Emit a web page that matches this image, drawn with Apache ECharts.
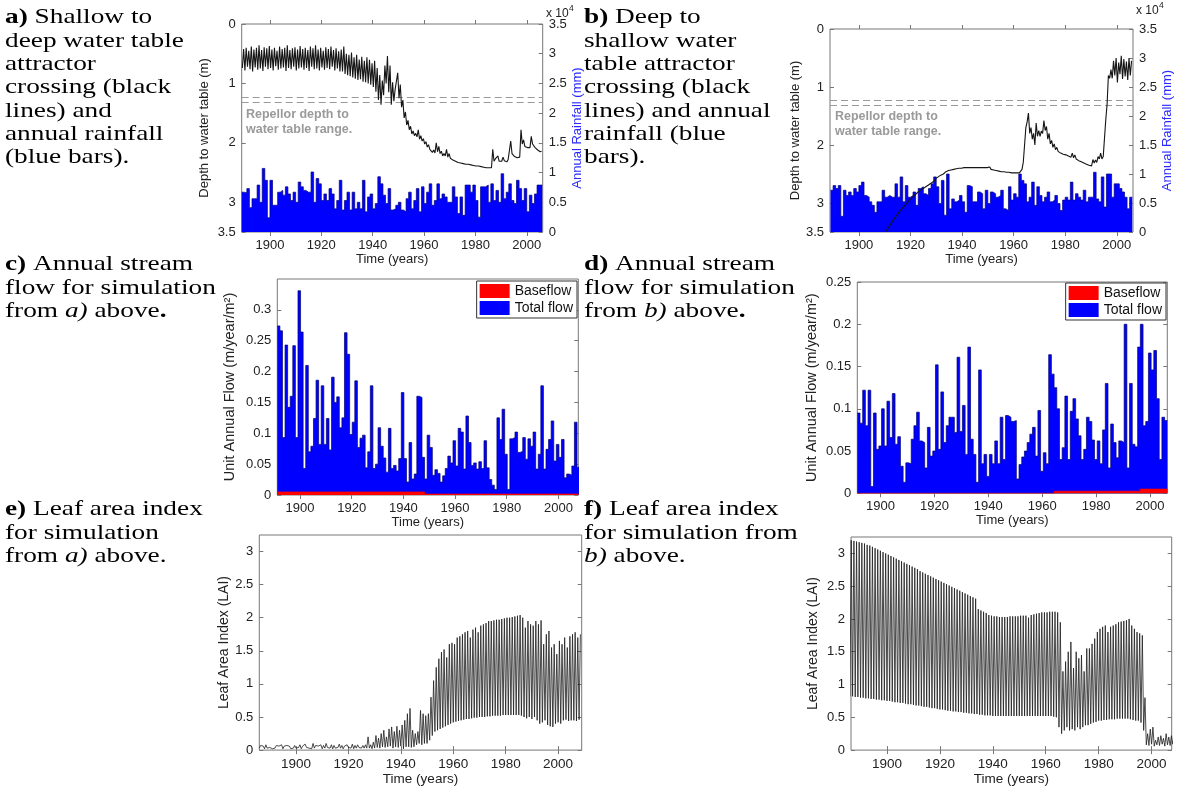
<!DOCTYPE html>
<html>
<head>
<meta charset="utf-8">
<script src="https://cdn.jsdelivr.net/npm/echarts@6/dist/echarts.min.js"></script>
<style>
  html, body { margin: 0; padding: 0; background: #fff; }
  #chart { width: 1177px; height: 787px; }
</style>
</head>
<body>
<div id="chart"></div>
<script>
// ---------- data ----------
const yearTicks = [1900, 1920, 1940, 1960, 1980, 2000];

// a) and b): annual rainfall bars, one bar per year from barStartAB
const barStartAB = 1889;
const rainA = [6700,6600,7300,4100,5600,5600,7900,5000,10700,8700,
  2400,8700,4500,4500,6700,7000,6200,7600,6400,5300,
  6700,5000,8400,7600,7000,6700,6700,10100,5000,9000,
  8100,5300,6400,5300,7300,6400,3900,5300,8700,3700,
  5300,6700,3700,6700,3900,5000,3900,8700,3400,5900,
  6400,3900,4800,9300,8100,6200,4800,7300,3700,3900,
  4500,5000,3700,3400,5600,6700,3900,5300,7300,3400,
  7600,4800,6700,8100,4500,5300,8100,5600,6400,5900,
  5000,5000,7600,5900,3100,5900,2800,7900,7900,6700,
  7900,5300,2500,7600,7600,7900,5000,8100,5300,7000,
  5000,9800,5600,6700,8100,5300,4800,8700,7300,5300,
  7300,3400,6200,4800,6400,7900,7900];
const rainB = [7200,8000,7500,8000,2700,7200,6300,6900,6300,7500,
  6900,8000,8600,6300,6000,5200,4600,3400,5200,5200,
  7200,6000,6300,6000,6000,8300,6000,9500,5200,8000,
  6000,6300,6900,4600,7500,7800,6600,6300,7500,8300,
  9500,7800,4900,8900,2900,10000,4000,5700,5200,5500,
  6300,5200,3400,8000,7800,5200,5200,6900,6600,4000,
  7200,4900,6900,6600,6000,6300,7200,4000,3700,7800,
  5500,6600,6000,10000,8900,8300,5200,6000,8600,4600,
  7800,6300,5200,6000,6900,5200,5500,6300,4900,3700,
  5500,6000,5500,8600,5500,6600,6000,5500,7200,5200,
  6000,6000,10300,5700,5200,9500,4300,10000,10000,6000,
  8300,8300,7500,6900,6000,4000,6000];

// depth to water table (m): deepest and shallowest value of each year, from barStartAB
const deepA = [0.74,0.78,0.72,0.76,0.80,0.73,0.77,0.75,0.79,0.72,
  0.76,0.74,0.78,0.71,0.77,0.75,0.73,0.79,0.74,0.76,
  0.72,0.78,0.75,0.73,0.77,0.74,0.79,0.72,0.76,0.75,
  0.78,0.73,0.77,0.74,0.76,0.72,0.78,0.75,0.80,
  0.80,0.84,0.86,0.88,0.90,0.92,0.94,0.93,0.97,0.98,
  1.00,1.02,1.06,1.14,1.28,1.36,1.20,1.00,1.15,1.36,
  1.30,1.10,1.25,1.40,1.58,1.70,1.78,1.85,1.88,1.90,
  1.94,1.97,2.02,2.07,2.11,2.16,2.17,2.15,2.18,2.22,
  2.22,2.24,2.26,2.29,2.31,2.33,2.34,2.35,2.36,2.36,
  2.37,2.38,2.39,2.39,2.40,2.41,2.42,2.42,2.42,2.31,
  2.30,2.31,2.31,2.30,2.32,2.30,2.18,2.23,2.25,2.24,
  2.02,2.06,2.08,2.08,2.02,2.08,2.12,2.15];
const shallowA = [0.42,0.40,0.45,0.38,0.43,0.40,0.36,0.44,0.39,0.41,
  0.37,0.43,0.40,0.45,0.38,0.42,0.40,0.36,0.44,0.41,
  0.39,0.43,0.37,0.42,0.40,0.44,0.38,0.41,0.36,0.43,
  0.40,0.45,0.39,0.42,0.38,0.44,0.41,0.46,0.43,
  0.38,0.50,0.52,0.48,0.56,0.52,0.60,0.55,0.62,0.56,
  0.60,0.66,0.62,0.74,0.86,0.95,0.70,0.54,0.70,0.98,
  1.10,0.82,1.02,1.28,1.48,1.62,1.72,1.80,1.84,1.78,
  1.88,1.93,1.98,2.03,2.08,2.12,2.00,2.06,2.14,2.18,
  2.11,2.18,2.24,2.27,2.30,2.32,2.33,2.34,2.35,2.36,
  2.36,2.37,2.38,2.39,2.39,2.40,2.41,2.42,2.11,2.27,
  2.22,2.28,2.24,2.28,2.28,1.97,2.15,2.20,2.22,1.78,
  1.95,2.03,2.06,1.89,2.00,2.06,2.10,2.14];
const deepB = [null,null,null,null,null,null,null,null,null,null,
  null,null,null,null,null,null,null,null,null,null,null,
  3.50,3.44,3.37,3.30,3.24,3.18,3.12,3.07,3.02,2.97,
  2.92,2.88,2.84,2.80,2.77,2.74,2.71,2.68,2.65,2.62,
  2.58,2.56,2.54,2.50,2.48,2.45,2.44,2.43,2.42,2.41,
  2.40,2.40,2.40,2.40,2.40,2.40,2.40,2.40,2.40,2.40,
  2.40,2.42,2.43,2.44,2.45,2.46,2.46,2.47,2.47,2.48,
  2.48,2.48,2.48,2.42,2.00,1.60,1.80,1.90,2.00,1.85,
  1.85,1.80,1.75,1.90,1.98,2.04,2.08,2.11,2.14,2.16,
  2.17,2.19,2.21,2.22,2.24,2.27,2.29,2.31,2.33,2.35,
  2.36,2.31,2.30,2.24,2.24,2.22,1.30,0.85,0.85,0.80,
  0.92,0.78,0.86,0.82,0.88,0.80];
const shallowB = [null,null,null,null,null,null,null,null,null,null,
  null,null,null,null,null,null,null,null,null,null,null,
  3.50,3.42,3.35,3.28,3.22,3.16,3.10,3.05,3.00,2.95,
  2.90,2.86,2.82,2.78,2.75,2.72,2.69,2.66,2.62,2.58,
  2.55,2.52,2.50,2.46,2.44,2.43,2.42,2.41,2.40,2.40,
  2.39,2.39,2.39,2.39,2.39,2.39,2.39,2.39,2.39,2.39,
  2.38,2.40,2.42,2.43,2.44,2.45,2.45,2.46,2.46,2.47,
  2.47,2.47,2.45,2.30,1.70,1.45,1.70,1.80,1.62,1.75,
  1.76,1.58,1.68,1.80,1.92,1.98,2.04,2.08,2.11,2.14,
  2.15,2.17,2.14,2.17,2.21,2.24,2.27,2.29,2.31,2.33,
  2.25,2.26,2.20,2.14,2.20,1.56,0.80,0.70,0.55,0.50,
  0.58,0.46,0.52,0.56,0.50,0.55];
const repellorDepths = [1.23, 1.32];

// c) and d): unit annual flow (m/year/m2)
const barStartC = 1891.2;
const totalFlowC = [0.274,0.266,0.093,0.243,0.142,0.16,0.242,0.093,0.331,0.264,
  0.043,0.21,0.07,0.079,0.124,0.186,0.082,0.177,0.082,0.124,
  0.073,0.191,0.15,0.159,0.109,0.125,0.263,0.228,0.098,0.118,
  0.185,0.077,0.092,0.097,0.044,0.07,0.177,0.043,0.05,0.109,
  0.079,0.06,0.037,0.108,0.043,0.048,0.039,0.059,0.166,0.059,
  0.021,0.085,0.026,0.034,0.16,0.158,0.061,0.026,0.097,0.077,
  0.032,0.041,0.035,0.021,0.031,0.043,0.063,0.052,0.088,0.047,
  0.108,0.102,0.042,0.128,0.085,0.048,0.052,0.042,0.054,0.043,
  0.088,0.044,0.025,0.016,0.009,0.125,0.09,0.139,0.066,0.009,
  0.091,0.093,0.102,0.069,0.071,0.093,0.058,0.091,0.079,0.102,
  0.042,0.066,0.177,0.042,0.074,0.09,0.12,0.055,0.082,0.061,
  0.09,0.028,0.034,0.032,0.047,0.118,0.045];
const baseflowC = [0.005,0.005,0.005,0.005,0.005,0.005,0.005,0.005,0.005,0.005,
  0.005,0.005,0.005,0.005,0.005,0.005,0.005,0.005,0.005,0.005,
  0.005,0.005,0.005,0.005,0.005,0.005,0.005,0.005,0.005,0.005,
  0.005,0.005,0.005,0.005,0.005,0.005,0.005,0.005,0.005,0.005,
  0.005,0.005,0.005,0.005,0.005,0.005,0.005,0.005,0.005,0.005,
  0.005,0.005,0.005,0.005,0.005,0.005,0.005,0.0015,0.0015,0.0015,
  0.0015,0.0015,0.0015,0.0015,0.0015,0.0015,0.0015,0.0015,0.0015,0.0015,
  0.0015,0.0015,0.0015,0.0015,0.0015,0.0015,0.0015,0.0015,0.0015,0.0015,
  0.0015,0.0015,0.0015,0.0015,0.0015,0.0015,0.0015,0.0015,0.0015,0.0015,
  0.0015,0.0015,0.0015,0.0015,0.0015,0.0015,0.0015,0.0015,0.0015,0.0015,
  0.0015,0.0015,0.0015,0.0015,0.0015,0.0015,0.0015,0.0015,0.0015,0.0015,
  0.0015,0.0015,0.0015,0.0015,0.0015,0.0015,0.0015];
const barStartD = 1891.4;
const totalFlowD = [0.095,0.083,0.122,0.08,0.122,0.008,0.095,0.052,0.056,0.1,
  0.056,0.109,0.066,0.118,0.058,0.067,0.032,0.013,0.036,0.035,
  0.064,0.08,0.096,0.062,0.06,0.03,0.078,0.044,0.05,0.152,
  0.052,0.12,0.06,0.08,0.09,0.09,0.072,0.161,0.073,0.104,
  0.046,0.173,0.064,0.046,0.013,0.146,0.035,0.046,0.02,0.046,
  0.035,0.062,0.035,0.09,0.04,0.092,0.09,0.085,0.086,0.017,
  0.034,0.043,0.05,0.06,0.07,0.078,0.044,0.098,0.026,0.048,
  0.035,0.164,0.141,0.125,0.1,0.04,0.054,0.115,0.04,0.097,
  0.112,0.088,0.068,0.04,0.052,0.09,0.085,0.063,0.04,0.062,
  0.035,0.075,0.13,0.03,0.082,0.06,0.042,0.062,0.06,0.2,
  0.03,0.13,0.058,0.055,0.173,0.2,0.08,0.085,0.166,0.146,
  0.169,0.112,0.04,0.09,0.086];
const baseflowD = [0,0,0,0,0,0,0,0,0,0, 0,0,0,0,0,0,0,0,0,0,
  0,0,0,0,0,0,0,0,0,0, 0,0,0,0,0,0,0,0,0,0,
  0,0,0,0,0,0,0,0,0,0, 0,0,0,0,0,0,0,0,0,0,
  0,0,0,0,0,0,0,0,0,0, 0,0,0,0.0025,0.0025,0.0025,0.0025,0.0025,0.0025,0.0025,
  0.0025,0.0025,0.0025,0.0025,0.0025,0.0025,0.0025,0.0025,0.0025,0.0025,
  0.0025,0.0025,0.0025,0.0025,0.0025,0.0025,0.0025,0.0025,0.0025,0.0025,
  0.0025,0.0025,0.0025,0.0025,0.0025,0.005,0.005,0.005,0.005,0.005,
  0.005,0.005,0.005,0.005,0.005];

// e) and f): leaf area index, yearly trough and peak from laiStart
const laiStart = 1886;
const laiPeakE = [0.07,0.06,0.08,0.06,0.07,0.05,0.07,0.06,0.08,0.06,
  0.07,0.06,0.05,0.07,0.06,0.08,0.06,0.09,0.07,0.06,
  0.10,0.07,0.06,0.08,0.07,0.10,0.06,0.08,0.07,0.06,
  0.09,0.07,0.06,0.08,0.06,0.09,0.07,0.08,0.06,0.07,0.08,
  0.2,0.08,0.12,0.22,0.18,0.25,0.3,0.2,0.32,0.35,
  0.28,0.36,0.3,0.38,0.45,0.55,0.63,0.3,0.25,0.28,
  0.6,0.55,0.52,0.55,0.8,1.05,1.25,1.38,1.48,1.52,
  1.4,1.6,1.62,1.6,1.7,1.72,1.75,1.78,1.8,1.7,
  1.82,1.85,1.78,1.88,1.9,1.92,1.95,1.95,1.96,1.97,
  1.97,1.98,1.99,2.0,2.0,2.01,2.02,2.03,2.04,2.0,
  1.85,1.95,1.9,1.88,1.95,1.9,1.96,1.6,1.75,1.8,
  1.55,1.6,1.45,1.65,1.6,1.7,1.55,1.72,1.75,1.78,
  1.7,1.75];
const laiTroughE = [0.03,0.04,0.02,0.03,0.04,0.02,0.03,0.04,0.03,0.02,
  0.03,0.04,0.02,0.03,0.03,0.04,0.02,0.03,0.04,0.03,
  0.02,0.03,0.04,0.03,0.02,0.03,0.04,0.03,0.02,0.03,
  0.04,0.03,0.02,0.03,0.04,0.03,0.02,0.03,0.04,0.03,0.03,
  0.03,0.03,0.02,0.03,0.04,0.03,0.05,0.04,0.05,0.06,
  0.03,0.05,0.04,0.06,0.02,0.05,0.05,0.04,0.05,0.08,
  0.1,0.08,0.1,0.1,0.15,0.22,0.28,0.3,0.32,0.34,
  0.36,0.38,0.4,0.42,0.43,0.44,0.45,0.46,0.47,0.47,
  0.48,0.49,0.49,0.5,0.5,0.5,0.51,0.51,0.52,0.52,
  0.52,0.52,0.53,0.53,0.53,0.53,0.53,0.53,0.53,0.52,
  0.5,0.48,0.5,0.47,0.5,0.45,0.4,0.42,0.45,0.38,
  0.36,0.35,0.4,0.42,0.4,0.45,0.46,0.44,0.45,0.45,
  0.44,0.46];
const laiPeakF = [3.20,3.19,3.18,3.17,3.16,3.15,3.13,3.12,3.10,3.08,
  3.06,3.04,3.02,3.00,2.98,2.96,2.94,2.92,2.90,2.88,
  2.86,2.84,2.82,2.80,2.78,2.76,2.73,2.71,2.69,2.67,
  2.65,2.63,2.61,2.59,2.57,2.55,2.53,2.51,2.49,2.47,
  2.45,2.43,2.41,2.39,2.37,2.35,2.33,2.31,2.15,2.13,
  2.11,2.09,2.06,2.05,2.04,2.04,2.03,2.03,2.03,2.03,
  2.04,2.04,2.04,2.04,2.05,2.05,2.05,2.02,2.06,2.07,
  2.08,2.09,2.10,2.10,2.10,2.11,2.11,2.11,2.10,1.95,
  1.20,1.35,1.50,1.65,1.25,1.50,1.40,1.45,1.20,1.55,
  1.55,1.62,1.70,1.80,1.85,1.88,1.90,1.80,1.88,1.90,
  1.92,1.95,1.96,1.97,1.98,2.00,1.90,1.85,1.80,1.78,
  1.75,0.80,0.25,0.32,0.35,0.15,0.20,0.22,0.18,0.25,
  0.20,0.22,0.20];
const laiTroughF = [0.82,0.82,0.81,0.81,0.80,0.80,0.79,0.79,0.78,0.78,
  0.77,0.77,0.76,0.76,0.75,0.75,0.74,0.73,0.73,0.72,
  0.72,0.71,0.70,0.70,0.69,0.68,0.68,0.67,0.66,0.66,
  0.65,0.64,0.64,0.63,0.62,0.62,0.61,0.60,0.60,0.59,
  0.59,0.58,0.58,0.57,0.57,0.56,0.56,0.55,0.55,0.54,
  0.54,0.53,0.53,0.53,0.52,0.52,0.52,0.52,0.52,0.52,
  0.52,0.52,0.52,0.52,0.52,0.52,0.52,0.52,0.52,0.52,
  0.52,0.52,0.52,0.52,0.52,0.52,0.52,0.51,0.50,0.35,
  0.25,0.30,0.35,0.30,0.32,0.30,0.35,0.32,0.35,0.38,
  0.38,0.40,0.42,0.43,0.45,0.45,0.46,0.46,0.47,0.47,
  0.47,0.48,0.48,0.48,0.48,0.48,0.47,0.46,0.45,0.45,
  0.42,0.30,0.08,0.07,0.09,0.06,0.08,0.07,0.09,0.06,
  0.08,0.07,0.09];

// ---------- helpers ----------
const sans = 'Liberation Sans';
const serif = 'Liberation Serif';
const frameColor = '#777';

// one bar per year -> step outline + fill
const stepData = (start, values) => {
  const pts = values.map((v, i) => [start + i, v]);
  pts.push([start + values.length, values[values.length - 1]]);
  return pts;
};
// two points per year -> dense seasonal zigzag
const zigzag = (start, first, second, off1, off2) => {
  const pts = [];
  first.forEach((v, i) => {
    if (v == null) return;
    pts.push([start + i + off1, v]);
    pts.push([start + i + off2, second[i]]);
  });
  return pts;
};

const grids = [
  { left: 241.7, top: 24, width: 301, height: 208 },     // a
  { left: 830, top: 29, width: 303, height: 203 },       // b
  { left: 277.3, top: 279, width: 301, height: 216 },    // c
  { left: 857.3, top: 282, width: 310, height: 211.3 },  // d
  { left: 259.3, top: 535, width: 322.4, height: 216.7 },// e
  { left: 851, top: 537, width: 320.7, height: 214.7 }   // f
].map(g => Object.assign(g, { show: true, borderColor: frameColor, borderWidth: 1, backgroundColor: '#fff' }));

const xRanges = [[1889, 2006.2], [1888.8, 2006.3], [1891.2, 2007.7], [1891.4, 2006.4], [1886, 2009], [1886.4, 2007.6]];

const labelStyle = { fontFamily: sans, fontSize: 13, color: '#222' };
const tickStyle = { inside: true, length: 4, lineStyle: { color: frameColor } };

const xAxes = [];
xRanges.forEach((r, g) => {
  const big = g >= 4;
  xAxes.push({
    type: 'value', gridIndex: g, min: r[0], max: r[1],
    axisLine: { show: false }, splitLine: { show: false },
    axisTick: Object.assign({ customValues: yearTicks }, tickStyle),
    axisLabel: Object.assign({ customValues: yearTicks, margin: 7, formatter: v => String(v) }, labelStyle,
      { fontSize: big ? 13.5 : 13 }),
    name: 'Time (years)', nameLocation: 'middle', nameGap: 21,
    nameTextStyle: { fontFamily: sans, fontSize: big ? 13.5 : 13, color: '#222' }
  });
  xAxes.push({
    type: 'value', gridIndex: g, position: 'top', min: r[0], max: r[1],
    axisLine: { show: false }, splitLine: { show: false }, axisLabel: { show: false },
    axisTick: Object.assign({ customValues: yearTicks }, tickStyle)
  });
});

const nameStyle = (size) => ({ fontFamily: sans, fontSize: size, color: '#222' });
const depthAxis = (g, gap) => ({
  type: 'value', gridIndex: g, inverse: true, min: 0, max: 3.5,
  axisLine: { show: false }, splitLine: { show: false },
  axisTick: Object.assign({ customValues: [0, 1, 2, 3, 3.5] }, tickStyle),
  axisLabel: Object.assign({ customValues: [0, 1, 2, 3, 3.5], margin: 6 }, labelStyle),
  name: 'Depth to water table (m)', nameLocation: 'middle', nameGap: gap, nameRotate: 90, nameTextStyle: nameStyle(13)
});
const rainAxis = (g) => ({
  type: 'value', gridIndex: g, position: 'right', min: 0, max: 35000, interval: 5000,
  axisLine: { show: false }, splitLine: { show: false },
  axisTick: tickStyle,
  axisLabel: Object.assign({ margin: 6, formatter: v => String(v / 10000) }, labelStyle),
  name: 'Annual Rainfall (mm)', nameLocation: 'middle', nameGap: 27, nameRotate: 90,
  nameTextStyle: { fontFamily: sans, fontSize: 13, color: '#2a2aff' }
});
const plainAxis = (g, max, ticks, name, gap, size) => ({
  type: 'value', gridIndex: g, min: 0, max: max,
  axisLine: { show: false }, splitLine: { show: false },
  axisTick: Object.assign({ customValues: ticks }, tickStyle),
  axisLabel: Object.assign({ customValues: ticks, margin: 6 }, labelStyle),
  name: name, nameLocation: 'middle', nameGap: gap, nameRotate: 90, nameTextStyle: nameStyle(size)
});
const mirrorAxis = (g, max, ticks) => ({
  type: 'value', gridIndex: g, position: 'right', min: 0, max: max,
  axisLine: { show: false }, splitLine: { show: false }, axisLabel: { show: false },
  axisTick: Object.assign({ customValues: ticks }, tickStyle)
});

const flowTicksC = [0, 0.05, 0.1, 0.15, 0.2, 0.25, 0.3];
const flowTicksD = [0, 0.05, 0.1, 0.15, 0.2, 0.25];
const laiTicks = [0, 0.5, 1, 1.5, 2, 2.5, 3];
const flowName = 'Unit Annual Flow (m/year/m²)';
const laiName = 'Leaf Area Index (LAI)';

const yAxes = [
  depthAxis(0, 31), rainAxis(0),
  depthAxis(1, 18), rainAxis(1),
  plainAxis(2, 0.35, flowTicksC, flowName, 40, 14.5), mirrorAxis(2, 0.35, flowTicksC),
  plainAxis(3, 0.25, flowTicksD, flowName, 38, 14.5), mirrorAxis(3, 0.25, flowTicksD),
  plainAxis(4, 3.25, laiTicks, laiName, 25, 14), mirrorAxis(4, 3.25, laiTicks),
  plainAxis(5, 3.25, laiTicks, laiName, 31, 14), mirrorAxis(5, 3.25, laiTicks)
];

const barSeries = (name, xi, yi, start, values, fill, edge, z) => ({
  name: name, type: 'line', xAxisIndex: xi, yAxisIndex: yi, step: 'end',
  data: stepData(start, values), showSymbol: false, symbol: 'none', z: z,
  color: fill, itemStyle: { color: fill },
  lineStyle: { color: edge, width: 0.7 },
  areaStyle: { color: fill, opacity: 1 }
});
const repellorLines = {
  silent: true, symbol: 'none', label: { show: false },
  lineStyle: { color: '#9a9a9a', type: [7, 4], width: 1 },
  data: repellorDepths.map(d => ({ yAxis: d }))
};
const wtSeries = (xi, yi, deep, shallow) => ({
  type: 'line', xAxisIndex: xi, yAxisIndex: yi, showSymbol: false, symbol: 'none', z: 5,
  data: zigzag(barStartAB, deep, shallow, 0.25, 0.75),
  lineStyle: { color: '#151515', width: 1.1 },
  markLine: repellorLines
});
const laiSeries = (xi, yi, troughs, peaks) => ({
  type: 'line', xAxisIndex: xi, yAxisIndex: yi, showSymbol: false, symbol: 'none',
  data: zigzag(laiStart, troughs, peaks, 0, 0.5),
  lineStyle: { color: '#1e1e1e', width: 0.8 }
});

const series = [
  barSeries('Rainfall a', 0, 1, barStartAB, rainA, '#0000ff', '#000080', 1),
  wtSeries(0, 0, deepA, shallowA),
  barSeries('Rainfall b', 2, 3, barStartAB, rainB, '#0000ff', '#000080', 1),
  wtSeries(2, 2, deepB, shallowB),
  barSeries('Total flow', 4, 4, barStartC, totalFlowC, '#0000ff', '#000070', 1),
  barSeries('Baseflow', 4, 4, barStartC, baseflowC, '#ff0000', '#ff0000', 2),
  barSeries('Total flow', 6, 6, barStartD, totalFlowD, '#0000ff', '#000070', 1),
  barSeries('Baseflow', 6, 6, barStartD, baseflowD, '#ff0000', '#ff0000', 2),
  laiSeries(8, 8, laiTroughE, laiPeakE),
  laiSeries(10, 10, laiTroughF, laiPeakF)
];

const legendFor = (right, top) => ({
  data: ['Baseflow', 'Total flow'], orient: 'vertical', right: right, top: top,
  icon: 'rect', itemWidth: 30, itemHeight: 14, itemGap: 3, padding: [3, 4, 3, 3],
  borderColor: '#333', borderWidth: 1, backgroundColor: '#fff', selectedMode: false,
  textStyle: { fontFamily: sans, fontSize: 14, color: '#111' }
});

// ---------- captions and annotations ----------
const capSize = 21, capLine = 23.3, capStretch = 1.3;
const capText = (x, y, text) => ({
  type: 'text', x: x, y: y, scaleX: capStretch, silent: true,
  style: {
    text: text, fill: '#000', fontFamily: serif, fontSize: capSize, lineHeight: capLine,
    rich: {
      b: { fontWeight: 'bold', fontFamily: serif, fontSize: capSize, lineHeight: capLine, fill: '#000' },
      i: { fontStyle: 'italic', fontFamily: serif, fontSize: capSize, lineHeight: capLine, fill: '#000' }
    }
  }
});
const noteText = (x, y) => ({
  type: 'text', x: x, y: y, silent: true,
  style: { text: 'Repellor depth to\nwater table range.', fill: '#9a9a9a', fontFamily: sans,
    fontSize: 12.5, fontWeight: 'bold', lineHeight: 15 }
});
const expText = (x, y) => [
  { type: 'text', x: x, y: y, silent: true, style: { text: 'x 10', fill: '#222', fontFamily: sans, fontSize: 12 } },
  { type: 'text', x: x + 23, y: y - 4, silent: true, style: { text: '4', fill: '#222', fontFamily: sans, fontSize: 8.5 } }
];

const graphic = [
  capText(5, 6.3, '{b|a)} Shallow to\ndeep water table\nattractor\ncrossing (black\nlines) and\nannual rainfall\n(blue bars).'),
  capText(584, 6.3, '{b|b)} Deep to\nshallow water\ntable attractor\ncrossing (black\nlines) and annual\nrainfall (blue\nbars).'),
  capText(5, 253.3, '{b|c)} Annual stream\nflow for simulation\nfrom {i|a)} above{b|.}'),
  capText(584, 253.3, '{b|d)} Annual stream\nflow for simulation\nfrom {i|b)} above{b|.}'),
  capText(5, 498.3, '{b|e)} Leaf area index\nfor simulation\nfrom {i|a)} above.'),
  capText(584, 498.3, '{b|f)} Leaf area index\nfor simulation from\n{i|b)} above.'),
  noteText(246, 107),
  noteText(835, 109)
].concat(expText(546, 8), expText(1136, 5));

const chart = echarts.init(document.getElementById('chart'), null, { renderer: 'canvas' });
chart.setOption({
  animation: false,
  backgroundColor: '#fff',
  grid: grids,
  xAxis: xAxes,
  yAxis: yAxes,
  legend: [legendFor(1177 - 577, 281), legendFor(1177 - 1166, 283)],
  series: series,
  graphic: graphic
});
</script>
</body>
</html>
